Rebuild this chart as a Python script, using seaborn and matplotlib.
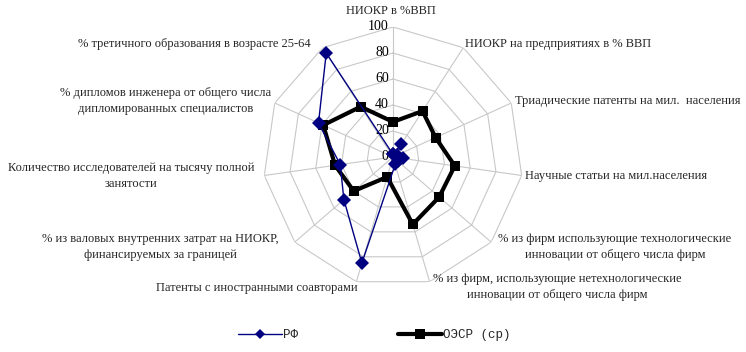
import numpy as np
import pandas as pd
import matplotlib
matplotlib.use("Agg")
import matplotlib.pyplot as plt
import matplotlib.transforms as mtransforms
from matplotlib.lines import Line2D
import seaborn as sns

##### данные
categories = [
    "НИОКР в %ВВП",
    "НИОКР на предприятиях в % ВВП",
    "Триадические патенты на мил.  населения",
    "Научные статьи на мил.населения",
    "% из фирм использующие технологические\nинновации от общего числа фирм",
    "% из фирм, использующие нетехнологические\nинновации от общего числа фирм",
    "Патенты с иностранными соавторами",
    "% из валовых внутренних затрат на НИОКР,\nфинансируемых за границей",
    "Количество исследователей на тысячу полной\nзанятости",
    "% дипломов инженера от общего числа\nдипломированных специалистов",
    "% третичного образования в возрасте 25-64",
]
rf = [2, 12, 3, 8, 5, 6, 85, 50, 41, 63, 95]
oecd = [27, 42, 36, 48, 47, 54, 16, 40, 45, 59, 46]
series_names = ["РФ", "ОЭСР (ср)"]
r_ticks = [0, 20, 40, 60, 80, 100]

# положение подписей категорий (пиксели от верхнего левого угла)
label_pos = [
    (391, 11, "center"), (465, 44, "left"), (515, 101, "left"),
    (525, 176, "left"), (615, 247, "center"), (557, 287, "center"),
    (257, 288, "center"), (160, 247, "center"), (131, 176, "center"),
    (166, 101, "center"), (194, 44, "center"),
]

W, H = 746, 352
cx, cy, R = 393, 157, 130

sns.set_style("white")
plt.rcParams["font.family"] = ["Liberation Serif", "DejaVu Serif"]

fig = plt.figure(figsize=(W / 100, H / 100), dpi=100)
ax = fig.add_axes([(cx - R) / W, (H - cy - R) / H, 2 * R / W, 2 * R / H],
                  projection="polar")
ax.set_theta_zero_location("N")
ax.set_theta_direction(-1)
ax.set_ylim(0, 100)
ax.set_xticks([])
ax.set_yticks([])
ax.grid(False)
ax.spines["polar"].set_visible(False)
ax.patch.set_alpha(0)

n = len(categories)
theta = np.arange(n) * 2 * np.pi / n
theta_c = np.append(theta, theta[0])

# многоугольная сетка как в Excel
for r in r_ticks[1:]:
    ax.plot(theta_c, [r] * (n + 1), color="#c8c8c8", lw=0.8, zorder=1)
for t in theta:
    ax.plot([t, t], [0, 100], color="#c8c8c8", lw=0.8, zorder=1)

# подписи шкалы
offs = mtransforms.offset_copy(ax.transData, fig=fig, x=-3, y=0, units="points")
for r in r_ticks:
    ax.text(0, r, str(r), transform=offs, ha="right", va="center",
            fontsize=10, color="black")

df = pd.DataFrame({
    "theta": np.concatenate([theta_c, theta_c]),
    "value": rf + [rf[0]] + oecd + [oecd[0]],
    "series": [series_names[0]] * (n + 1) + [series_names[1]] * (n + 1),
})

sns.lineplot(data=df[df.series == series_names[0]], x="theta", y="value",
             sort=False, estimator=None, ax=ax, color="#000080", lw=1,
             marker="D", markersize=7, markeredgewidth=0, zorder=4)
sns.lineplot(data=df[df.series == series_names[1]], x="theta", y="value",
             sort=False, estimator=None, ax=ax, color="black", lw=3,
             marker="s", markersize=7, markeredgewidth=0, zorder=3)
ax.set_xlabel("")
ax.set_ylabel("")
ax.set_ylim(0, 100)

for lab, (x, y, ha) in zip(categories, label_pos):
    fig.text(x / W, 1 - y / H, lab, ha=ha, va="center", fontsize=9,
             multialignment="center", linespacing=1.45)

handles = [
    Line2D([], [], color="#000080", lw=1, marker="D", markersize=5,
           markeredgewidth=0),
    Line2D([], [], color="black", lw=3, marker="s", markersize=7,
           markeredgewidth=0),
]
fig.legend(handles, series_names, loc="center", ncol=2, frameon=False,
           bbox_to_anchor=(374 / W, 1 - 335 / H), handlelength=3.5,
           columnspacing=8, handletextpad=0.1,
           prop={"family": "Liberation Mono", "size": 9})

plt.savefig("out.png", dpi=100)
plt.close()
